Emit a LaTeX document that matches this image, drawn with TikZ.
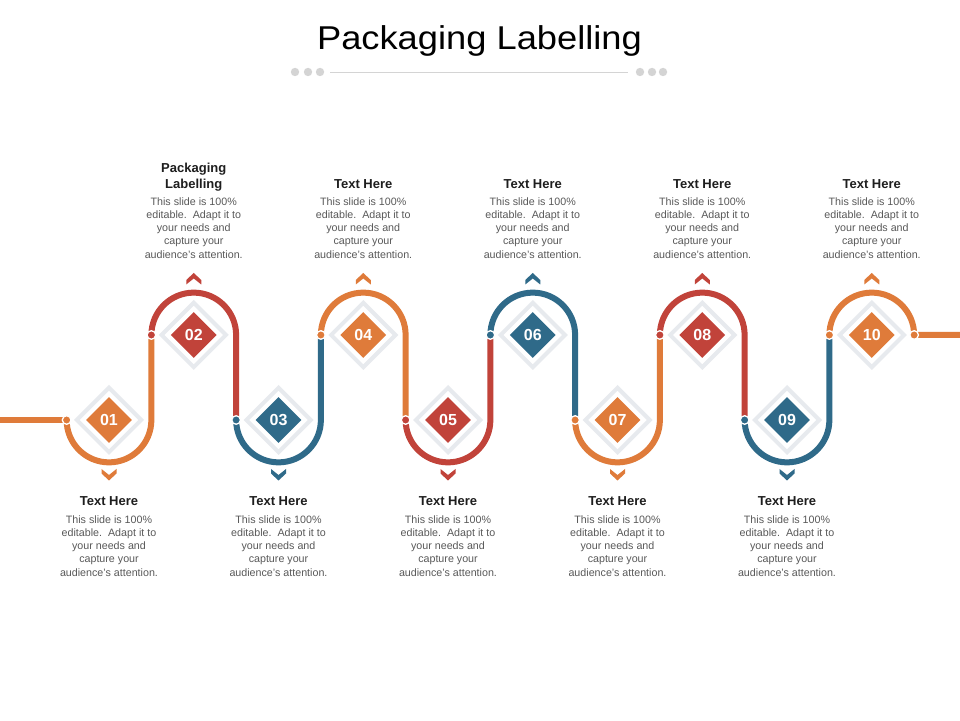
\documentclass[tikz,border=0pt]{standalone}
\usepackage{fontspec}
\setmainfont{Liberation Sans}
\usetikzlibrary{shapes.geometric,calc}
\definecolor{corange}{HTML}{DF7B3A}
\definecolor{cred}{HTML}{C1433A}
\definecolor{cblue}{HTML}{2F6A89}
\definecolor{cframe}{HTML}{E7EAEE}
\definecolor{cbody}{HTML}{595959}
\definecolor{ctitle}{HTML}{1E1E1E}
\definecolor{cdeco}{HTML}{D4D4D4}
\newcommand\mybody{This slide is 100\%\\editable.\ \ Adapt it to\\your needs and\\capture your\\audience's attention.}
\tikzset{
  seg/.style={line width=6, line cap=butt},
  jdot/.style={line width=1.3, draw=white},
  frame/.style={diamond, aspect=1, draw=cframe, line width=4, fill=white, minimum size=66, inner sep=0},
  numbox/.style={diamond, aspect=1, minimum size=46, inner sep=0, text=white, font=\fontsize{16}{16}\selectfont\bfseries},
  headtxt/.style={anchor=base, inner sep=0, text=ctitle, font=\fontsize{13}{16}\selectfont\bfseries},
  bodytxt/.style={anchor=north, inner sep=0, align=center, text=cbody, font=\fontsize{10.7}{13.25}\selectfont},
}
\begin{document}
\begin{tikzpicture}[x=1pt,y=1pt]
\useasboundingbox (0,0) rectangle (960,720);
\fill[white] (0,0) rectangle (960,720);
% title
\node[anchor=base, inner sep=0, xscale=1.1, transform shape, font=\fontsize{33}{40}\selectfont, text=black] (title) at (479.5,670.7) {Packaging Labelling};
% decoration under title
\coordinate (dl) at (330,648);
\coordinate (dr) at (628,648);
\draw[cdeco, line width=0.8] (dl) -- (dr);
\foreach \x in {295,308,320,640,652,663} \fill[cdeco] (\x,648) circle (4.2);
% coordinates
\def\R{42.375}
\foreach \i in {1,...,10} {
  \pgfmathsetmacro\cx{109+(\i-1)*84.75}
  \ifodd\i \def\cy{300}\else\def\cy{385}\fi
  \coordinate (c\i) at (\cx,\cy);
  \coordinate (p\i) at (\cx-\R,\cy);
  \coordinate (q\i) at (\cx+\R,\cy);
}
\coordinate (lstart) at (0,300);
\coordinate (rend) at (960,385);
% path segments
\draw[seg, draw=corange] (lstart) -- (p1);
\foreach \i/\col in {1/corange,2/cred,3/cblue,4/corange,5/cred,6/cblue,7/corange,8/cred,9/cblue,10/corange} {
  \pgfmathtruncatemacro\j{\i+1}
  \ifodd\i
    \draw[seg, draw=\col] (p\i) arc[start angle=180, end angle=360, radius=\R] -- (p\j);
  \else
    \ifnum\i<10
      \draw[seg, draw=\col] (p\i) arc[start angle=180, end angle=0, radius=\R] -- (p\j);
    \else
      \draw[seg, draw=\col] (p\i) arc[start angle=180, end angle=0, radius=\R] -- (q\i) -- (rend);
    \fi
  \fi
}
% junction dots
\foreach \i/\col in {1/corange,2/cred,3/cblue,4/corange,5/cred,6/cblue,7/corange,8/cred,9/cblue,10/corange}
  \filldraw[jdot, fill=\col] (p\i) circle (4.3);
\filldraw[jdot, fill=corange] (q10) circle (4.3);
% diamonds, chevrons
\foreach \i/\col/\lab in {1/corange/01,2/cred/02,3/cblue/03,4/corange/04,5/cred/05,6/cblue/06,7/corange/07,8/cred/08,9/cblue/09,10/corange/10} {
  \node[frame] (d\i) at (c\i) {};
  \node[numbox, fill=\col] (n\i) at (c\i) {\lab};
  \ifodd\i
    \fill[\col] ($(c\i)+(0,-60.5)$) -- ++(7.5,7) -- ++(0,4.5) -- ++(-7.5,-6) -- ++(-7.5,6) -- ++(0,-4.5) -- cycle;
  \else
    \fill[\col] ($(c\i)+(0,62)$) -- ++(7.5,-7) -- ++(0,-4.5) -- ++(-7.5,6) -- ++(-7.5,-6) -- ++(0,4.5) -- cycle;
  \fi
}
% texts
\node[headtxt] (t2a) at (c2 |- 0,547.4) {Packaging};
\node[headtxt] (t2b) at (c2 |- 0,531.3) {Labelling};
\node[bodytxt] (b2) at (c2 |- 0,522.9) {\mybody};
\foreach \i in {4,6,8,10} {
  \node[headtxt] (t\i) at (c\i |- 0,531.3) {Text Here};
  \node[bodytxt] (b\i) at (c\i |- 0,522.9) {\mybody};
}
\foreach \i in {1,3,5,7,9} {
  \node[headtxt] (t\i) at (c\i |- 0,214.3) {Text Here};
  \node[bodytxt] (b\i) at (c\i |- 0,204.9) {\mybody};
}
\end{tikzpicture}
\end{document}
